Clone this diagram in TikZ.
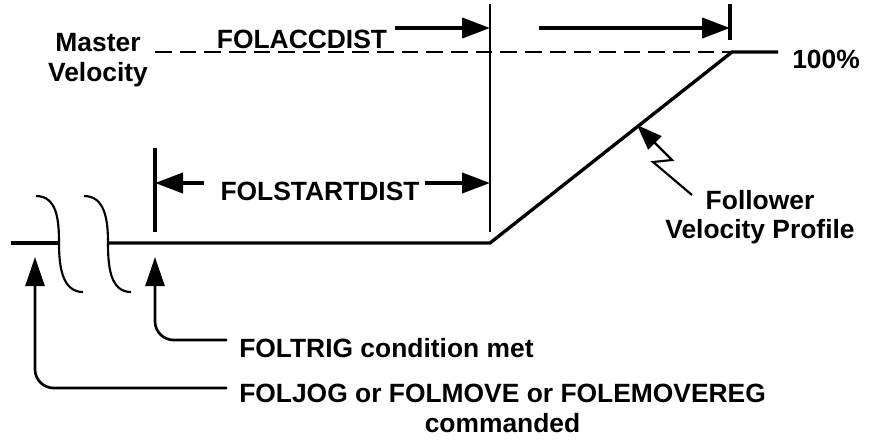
\documentclass[tikz,border=0pt]{standalone}
\usepackage{fontspec}
\setmainfont{Liberation Sans}
\usetikzlibrary{arrows.meta}
\begin{document}
\begin{tikzpicture}[x=0.75pt,y=-0.75pt,
  lbl/.style={font=\bfseries\fontsize{19.8}{22}\selectfont, inner sep=0pt},
  prof/.style={line width=2.5pt},
  tickln/.style={line width=3pt},
  guide/.style={line width=2pt},
  dimarrow/.style={line width=3pt,-{Triangle[length=21pt,width=15pt]}},
  callout/.style={line width=2pt, rounded corners=14pt,-{Triangle[length=21.75pt,width=14.25pt]}},
  bolt/.style={line width=1.6pt,-{Triangle[length=19pt,width=14pt]}},
  brk/.style={line width=1.6pt},
  mdash/.style={line width=1.7pt,dash pattern=on 12.5pt off 6pt},
]
\useasboundingbox (0,0) rectangle (874,440);
% profile points
\coordinate (L0) at (11,243);
\coordinate (L1) at (59,243);
\coordinate (R0) at (109,243);
\coordinate (K) at (490,243);
\coordinate (T) at (732,52);
\coordinate (T1) at (778,52);
\coordinate (D0) at (155,52);
% profile
\draw[prof] (L0) -- (L1);
\draw[prof] (R0) -- (K) -- (T) -- (T1);
% break marks
\draw[brk] (36,196) .. controls (57,196) and (59,220) .. (59,243) .. controls (59,266) and (62,292) .. (83,292);
\draw[brk] (84,196) .. controls (105,196) and (108,220) .. (108,243) .. controls (108,266) and (110,292) .. (131,292);
% master velocity dashed
\draw[mdash] (D0) -- (T);
% ticks and guide
\coordinate (tk1a) at (155,148); \coordinate (tk1b) at (155,232);
\coordinate (tk2a) at (730,4);   \coordinate (tk2b) at (730,40);
\coordinate (gda) at (490,4);    \coordinate (gdb) at (490,232);
\draw[tickln] (tk1a) -- (tk1b);
\draw[tickln] (tk2a) -- (tk2b);
\draw[guide] (gda) -- (gdb);
% dimension arrows
\coordinate (s1) at (155,183); \coordinate (s1t) at (204,183);
\coordinate (s2) at (490,183); \coordinate (s2t) at (425,183);
\coordinate (a1) at (490,28);  \coordinate (a1t) at (395,28);
\coordinate (a2) at (730,28);  \coordinate (a2t) at (539,28);
\draw[dimarrow] (s1t) -- (s1);
\draw[dimarrow] (s2t) -- (s2);
\draw[dimarrow] (a1t) -- (a1);
\draw[dimarrow] (a2t) -- (a2);
% labels
\node[lbl, align=center] (master) at (98,60) {Master\\Velocity};
\node[lbl, anchor=base] (accd) at (302,48) {FOLACCDIST};
\node[lbl, anchor=base] (startd) at (320,200) {FOLSTARTDIST};
\node[lbl, anchor=base] (hund) at (826,68) {100\%};
\node[lbl, align=center, anchor=north] (fvp) at (760,190) {Follower\\Velocity Profile};
\node[lbl, anchor=base west] (trig) at (239,357) {FOLTRIG condition met};
\node[lbl, align=center, anchor=north west] (jog) at (239,384) {FOLJOG or FOLMOVE or FOLEMOVEREG\\commanded};
% lightning callout
\coordinate (b0) at (692,195);
\coordinate (b1) at (653,162);
\coordinate (b2) at (672,160);
\coordinate (b3) at (637,125);
\draw[bolt] (b0) -- (b1) -- (b2) -- (b3);
% event callouts
\coordinate (trigend) at (227,340); \coordinate (trigtip) at (155,257);
\coordinate (jogend) at (227,388);  \coordinate (jogtip) at (35,257);
\draw[callout] (trigend) -| (trigtip);
\draw[callout] (jogend) -| (jogtip);
\end{tikzpicture}
\end{document}
